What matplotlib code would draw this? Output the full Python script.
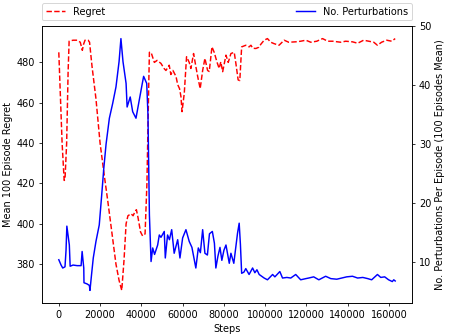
import matplotlib
matplotlib.use("Agg")
import matplotlib.pyplot as plt

# Regret curve (mean over 100 episodes)
regret_steps = [0, 1600, 2600, 3000, 3800, 4500, 5000, 6900, 8900, 10400, 11400, 12000,
                12700, 14200, 14900, 16100, 18000, 20000, 21900, 23900, 25800, 27700,
                29200, 30500, 31600, 32600, 33500, 35000, 36000, 36900, 37600, 38400,
                39600, 40600, 41800, 42700, 43600, 43900, 44700, 46300, 47600, 49500,
                51000, 51900, 53500, 54300, 55300, 56800, 57600, 58500, 59200, 59700,
                60800, 61900, 63200, 64000, 65300, 66400, 67300, 68500, 69700, 70800,
                72100, 72900, 74200, 75300, 76600, 77700, 78500, 79400, 81000, 82100,
                83400, 85000, 85800, 86900, 87700, 88600, 90600, 92200, 93100, 94000,
                95500, 96900, 97900, 99500, 101100, 102700, 104300, 106700, 109200,
                111400, 114800, 117200, 119700, 122100, 125000, 127800, 130300, 132700,
                136600, 139000, 142300, 144800, 147700, 150200, 152600, 154400, 156400,
                158900, 161300, 163000]
regret = [485, 440, 421.5, 422, 440, 475, 490.5, 491, 491, 490, 486, 489,
          491, 491, 490, 478, 462, 440, 425, 410, 395, 380,
          372, 367, 382, 400, 404, 405, 404, 406, 407, 403,
          396, 394, 395, 420, 470, 485, 485, 480, 481, 479.5,
          477, 476, 478.6, 474, 476, 473, 469, 467, 463, 455.6,
          464.7, 482.8, 480, 477, 484.4, 478, 473, 467, 476, 482,
          476, 475.5, 487.7, 485, 480.3, 477, 480.3, 475.4, 483.6, 480,
          484.4, 485, 479.5, 471.3, 471, 487.7, 488.5, 487.7, 488.5, 487,
          486.9, 487.5, 489, 491, 491.8, 490, 489.3, 488.5, 491,
          490, 490.2, 490.5, 491, 490, 490.5, 491.8, 490.5, 490.5,
          490, 490.5, 490.2, 489.5, 491, 490.5, 490, 488.5, 490,
          491, 490.5, 491.8]

# Number of perturbations per episode (mean over 100 episodes)
pert_steps = [0, 1100, 1900, 3000, 3500, 3900, 4500, 5100, 5500, 6900, 8900, 10800,
              11300, 12100, 12200, 13700, 14800, 15100, 15900, 16700, 18000, 19600,
              20700, 21800, 22900, 24500, 26100, 27700, 29200, 30100, 31100, 32600,
              33100, 34600, 35800, 37400, 39000, 40300, 41100, 42600, 43200, 43900,
              44700, 45500, 46400, 47900, 48700, 49500, 51100, 51600, 52700, 53600,
              54700, 55900, 57600, 58700, 60000, 61600, 63200, 64500, 66400, 67600,
              68600, 69700, 70800, 72000, 73000, 74400, 75400, 76100, 77100, 78100,
              79000, 80000, 81000, 82600, 83400, 84800, 86600, 87400, 88000, 88600,
              89700, 90600, 92200, 93900, 95000, 96000, 97100, 99500, 101100, 103600,
              104700, 107100, 108400, 110500, 112400, 114800, 117200, 119700, 121100,
              123500, 126000, 129300, 131800, 134700, 137100, 139500, 142300, 144800,
              147300, 149700, 151600, 154400, 156000, 157900, 159800, 161600, 162300,
              163000]
perturbations = [10.4, 9.5, 9.0, 9.2, 12, 16.1, 14.5, 12.9, 9.3, 9.5, 9.4, 9.4,
                 11.8, 9.0, 6.5, 6.3, 6.05, 5.2, 8, 10.7, 13.5, 16.3,
                 21, 25.9, 30, 34.4, 36.9, 39.7, 44, 47.9, 44, 40.3,
                 36.3, 38.0, 35.5, 34.4, 37.5, 40, 41.5, 40.3, 35, 18,
                 10.1, 12.4, 11.3, 12.9, 14.6, 14.2, 15.2, 10.7, 14.6, 13.8,
                 15.5, 11.5, 13.8, 10.7, 14.1, 15.5, 13.5, 12.5, 9.0, 12.4,
                 11.6, 15.5, 11.5, 11.2, 14.8, 15.2, 13.2, 9.0, 11, 12.5,
                 10.3, 12, 12.9, 9.8, 11.5, 9.8, 14.9, 16.6, 13, 8.1,
                 8.3, 8.9, 7.9, 9.0, 8.2, 8.7, 7.9, 7.3, 7.0, 7.9,
                 7.5, 8.4, 7.3, 7.4, 7.3, 7.9, 7.0, 7.2, 7.3,
                 7.5, 7.0, 7.6, 7.2, 7.1, 7.3, 7.5, 7.6, 7.3,
                 7.4, 7.2, 7.0, 7.9, 7.4, 7.5, 7.0, 6.7, 7.0,
                 6.8]

fig, ax1 = plt.subplots(figsize=(450 / 70, 336 / 70), dpi=70)
fig.subplots_adjust(left=0.0933, right=0.9156, bottom=0.0982, top=0.9226)

line1, = ax1.plot(regret_steps, regret, "r--", label="Regret")
ax1.set_xlabel("Steps")
ax1.set_ylabel("Mean 100 Episode Regret")

ax2 = ax1.twinx()
line2, = ax2.plot(pert_steps, perturbations, "b-", label="No. Perturbations")
ax2.set_ylabel("No. Perturbations Per Episode (100 Episodes Mean)")

ax1.legend([line1, line2], ["Regret", "No. Perturbations"],
           bbox_to_anchor=(0., 1.02, 1., .102), loc=3, ncol=2,
           mode="expand", borderaxespad=0.)

plt.savefig("out.png")
